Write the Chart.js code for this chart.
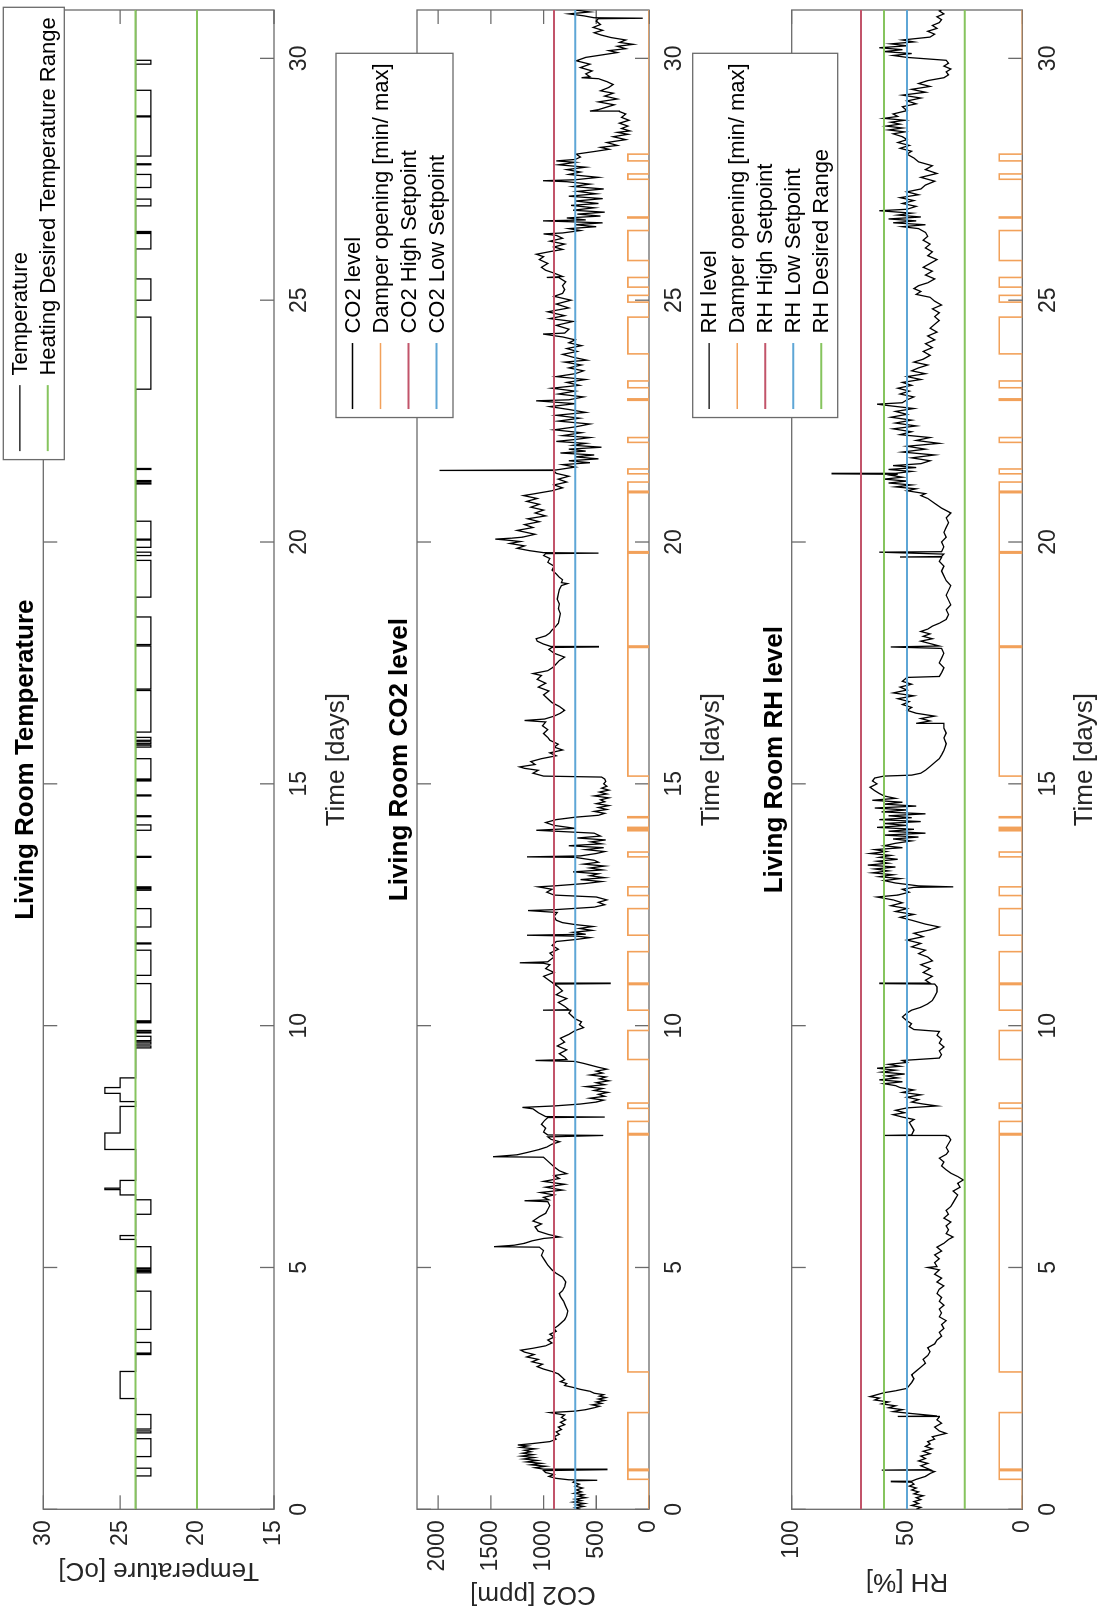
<!DOCTYPE html>
<html>
<head>
<meta charset="utf-8">
<script src="https://cdn.jsdelivr.net/npm/chart.js@4.4.1/dist/chart.umd.min.js"></script>
<style>
    html, body { margin: 0; padding: 0; background: #fff; overflow: hidden; }
    /* the figure is laid out landscape, then turned a quarter to the left */
    #fig {
        position: absolute; left: 0; top: 0;
        width: 1612px; height: 1099px;
        transform-origin: 0 0;
        transform: translate(0, 1612px) rotate(-90deg);
        background: #fff;
    }
    #fig canvas { position: absolute; left: 0; }
</style>
</head>
<body>
<div id="fig">
    <canvas id="tempChart" width="1612" height="380" style="top:0px"></canvas>
    <canvas id="co2Chart" width="1612" height="420" style="top:320px"></canvas>
    <canvas id="rhChart" width="1612" height="419" style="top:680px"></canvas>
</div>
<script>
// ---- data: [day, value] ----
const dayTicks = [0, 5, 10, 15, 20, 25, 30];
const tempTicks = [15, 20, 25, 30];
const co2Ticks = [0, 500, 1000, 1500, 2000];
const rhTicks = [0, 50, 100];

const heatingRange = [24, 20];
const co2High = 900;
const co2Low = 700;
const rhHigh = 70;
const rhLow = 50;
const rhDesired = [60, 25];
const damperMaxCo2 = 200;
const damperMaxRh = 10;

// temperature holds each value until the next step
const tempSteps = [
    [0, 24], [0.69, 23], [0.85, 24], [1.09, 23], [1.46, 24], [1.58, 23], [1.62, 24], [1.66, 23], [1.96, 24],
    [2.29, 25], [2.85, 24], [3.20, 23], [3.22, 24], [3.23, 23], [3.45, 24], [3.72, 23], [4.51, 24],
    [4.89, 23], [4.92, 24], [4.94, 23], [4.97, 24], [4.99, 23], [5.43, 24], [5.58, 25], [5.66, 24],
    [6.10, 23], [6.40, 24], [6.50, 25], [6.61, 26], [6.64, 25], [6.80, 24], [7.44, 26], [7.78, 25], [8.33, 24],
    [8.43, 25], [8.60, 26], [8.72, 25], [8.92, 24], [9.54, 23], [9.58, 24], [9.62, 23], [9.66, 24], [9.69, 23], [9.78, 24],
    [9.85, 23], [9.86, 24], [9.89, 23], [9.90, 24], [10.06, 23], [10.08, 24], [10.10, 23], [10.87, 24],
    [11.04, 23], [11.56, 24], [11.69, 23], [11.71, 24], [12.04, 23], [12.42, 24], [12.80, 23], [12.83, 24], [12.85, 23], [12.87, 24],
    [13.48, 23], [13.50, 24], [14.04, 23], [14.15, 24], [14.32, 23], [14.34, 24], [14.75, 23], [14.77, 24],
    [15.06, 23], [15.08, 24], [15.10, 23], [15.52, 24], [15.76, 23], [15.80, 24], [15.83, 23], [15.87, 24], [15.90, 23], [15.96, 24],
    [16.07, 23], [16.93, 24], [16.96, 23], [17.85, 24], [17.88, 23], [18.45, 24], [18.86, 23], [19.62, 24],
    [19.72, 23], [19.79, 24], [19.89, 23], [20.04, 24], [20.06, 23], [20.43, 24], [21.20, 23], [21.22, 24], [21.25, 23], [21.27, 24],
    [21.50, 23], [21.52, 24], [23.16, 23], [24.65, 24], [25.00, 23], [25.44, 24], [26.06, 23], [26.38, 24], [26.40, 23], [26.42, 24],
    [26.95, 23], [27.09, 24], [27.33, 23], [27.60, 24], [27.80, 23], [27.82, 24], [27.98, 23], [28.79, 24], [28.81, 23], [29.34, 24],
    [29.88, 23], [29.96, 24], [31, 24]
];

// damper: 1 = open (max), 0 = closed (min)
const damperSteps = [
    [0, 0], [0.62, 1], [0.80, 0], [0.83, 1], [2.00, 0], [2.84, 1], [7.74, 0], [7.77, 1], [8.02, 0], [8.29, 1], [8.40, 0],
    [9.30, 1], [9.90, 0], [10.32, 1], [10.85, 0], [10.88, 1], [11.53, 0], [11.87, 1], [12.42, 0], [12.69, 1], [12.87, 0],
    [13.49, 1], [13.59, 0], [14.03, 1], [14.05, 0], [14.07, 1], [14.10, 0], [14.30, 1], [14.32, 0], [15.16, 1], [17.82, 0],
    [17.85, 1], [19.77, 0], [19.80, 1], [21.02, 0], [21.05, 1], [21.24, 0], [21.41, 1], [21.51, 0], [22.06, 1], [22.16, 0],
    [22.93, 1], [22.96, 0], [23.19, 1], [23.33, 0], [23.89, 1], [24.65, 0], [24.96, 1], [25.10, 0], [25.27, 1], [25.47, 0],
    [25.82, 1], [26.44, 0], [26.70, 1], [26.72, 0], [27.50, 1], [27.61, 0], [27.88, 1], [28.02, 0], [31, 0]
];

const co2Readings = [
    [0.00, 650], [0.03, 700], [0.06, 620], [0.09, 690], [0.12, 610], [0.15, 720], [0.18, 640], [0.21, 700], [0.24, 600], [0.27, 670],
    [0.30, 620], [0.33, 710], [0.36, 640], [0.40, 690], [0.44, 630], [0.48, 700], [0.52, 660], [0.56, 720], [0.59, 700], [0.60, 490],
    [0.61, 760], [0.64, 880], [0.68, 950], [0.72, 900], [0.76, 980], [0.80, 1000], [0.82, 400], [0.83, 1000], [0.86, 1080], [0.89, 980],
    [0.92, 1120], [0.95, 1020], [0.98, 1160], [1.01, 1060], [1.04, 1190], [1.07, 1090], [1.10, 1210], [1.13, 1100], [1.16, 1200], [1.19, 1120],
    [1.22, 1180], [1.25, 1080], [1.28, 1220], [1.31, 1150], [1.33, 1245], [1.36, 1100], [1.40, 940], [1.45, 880], [1.50, 900], [1.55, 850],
    [1.60, 880], [1.65, 830], [1.70, 860], [1.75, 800], [1.80, 840], [1.85, 790], [1.90, 830], [1.95, 800], [2.00, 940], [2.03, 700],
    [2.06, 600], [2.10, 520], [2.13, 470], [2.16, 540], [2.19, 450], [2.22, 500], [2.25, 420], [2.28, 480], [2.31, 410], [2.34, 470],
    [2.37, 430], [2.40, 520], [2.44, 560], [2.48, 650], [2.52, 720], [2.56, 800], [2.60, 780], [2.64, 840], [2.68, 800], [2.74, 830],
    [2.80, 860], [2.85, 920], [2.90, 1000], [2.95, 1060], [3.00, 1010], [3.05, 1110], [3.10, 1050], [3.15, 1160], [3.20, 1090], [3.25, 1180],
    [3.29, 1215], [3.33, 1100], [3.38, 980], [3.44, 920], [3.50, 960], [3.56, 900], [3.62, 940], [3.68, 880], [3.74, 900], [3.80, 860],
    [3.86, 830], [3.92, 800], [4.00, 780], [4.10, 770], [4.20, 790], [4.30, 810], [4.40, 840], [4.46, 850], [4.52, 820], [4.60, 800],
    [4.70, 790], [4.80, 820], [4.88, 880], [4.95, 920], [5.05, 960], [5.15, 990], [5.25, 1020], [5.35, 1000], [5.42, 1040], [5.43, 1470],
    [5.46, 1280], [5.50, 1180], [5.55, 1110], [5.60, 1000], [5.63, 846], [5.68, 950], [5.75, 1050], [5.84, 1080], [5.90, 1020], [5.96, 1100],
    [6.05, 1040], [6.12, 980], [6.20, 960], [6.28, 940], [6.36, 960], [6.38, 1180], [6.40, 950], [6.45, 1000], [6.50, 900], [6.55, 1030],
    [6.60, 820], [6.66, 980], [6.72, 800], [6.78, 1000], [6.84, 850], [6.90, 900], [6.94, 780], [7.00, 850], [7.08, 900], [7.16, 940],
    [7.24, 980], [7.28, 1000], [7.29, 1480], [7.33, 1250], [7.38, 1150], [7.44, 1040], [7.49, 970], [7.55, 920], [7.60, 846], [7.65, 930],
    [7.70, 960], [7.73, 434], [7.74, 960], [7.80, 1000], [7.88, 980], [7.96, 1020], [8.04, 990], [8.10, 960], [8.11, 420], [8.12, 980],
    [8.20, 1050], [8.28, 1100], [8.31, 1200], [8.34, 900], [8.38, 650], [8.42, 500], [8.46, 430], [8.50, 560], [8.54, 420], [8.58, 480],
    [8.62, 390], [8.66, 520], [8.70, 440], [8.74, 600], [8.78, 420], [8.82, 500], [8.86, 380], [8.90, 470], [8.94, 410], [8.98, 560],
    [9.02, 440], [9.06, 500], [9.10, 400], [9.14, 480], [9.18, 550], [9.22, 620], [9.26, 700], [9.28, 1077], [9.30, 780], [9.35, 800],
    [9.42, 850], [9.50, 780], [9.58, 870], [9.66, 800], [9.74, 840], [9.82, 760], [9.90, 700], [9.96, 620], [10.02, 660], [10.08, 640],
    [10.14, 700], [10.20, 730], [10.26, 760], [10.31, 740], [10.32, 1004], [10.33, 760], [10.40, 800], [10.48, 860], [10.56, 780], [10.64, 880],
    [10.72, 820], [10.80, 860], [10.86, 900], [10.87, 370], [10.88, 910], [10.94, 950], [11.02, 1000], [11.10, 900], [11.18, 980], [11.26, 940],
    [11.29, 1000], [11.30, 1226], [11.32, 960], [11.42, 900], [11.50, 940], [11.58, 860], [11.66, 920], [11.74, 880], [11.78, 700], [11.82, 560],
    [11.85, 680], [11.87, 1157], [11.89, 600], [11.93, 720], [11.97, 540], [12.01, 660], [12.05, 530], [12.09, 700], [12.13, 820], [12.18, 880],
    [12.26, 900], [12.34, 870], [12.38, 1147], [12.40, 880], [12.45, 520], [12.50, 420], [12.55, 480], [12.60, 400], [12.66, 500], [12.70, 900],
    [12.76, 970], [12.82, 920], [12.87, 1050], [12.89, 900], [12.94, 600], [12.98, 450], [13.02, 650], [13.06, 420], [13.10, 560], [13.14, 480],
    [13.18, 720], [13.22, 440], [13.26, 560], [13.30, 420], [13.34, 620], [13.38, 480], [13.42, 520], [13.48, 700], [13.49, 1157], [13.51, 650],
    [13.56, 500], [13.60, 420], [13.64, 600], [13.68, 430], [13.72, 760], [13.76, 450], [13.80, 550], [13.84, 410], [13.88, 680], [13.92, 460],
    [13.98, 520], [14.04, 1068], [14.08, 700], [14.14, 900], [14.20, 980], [14.26, 880], [14.31, 700], [14.35, 480], [14.39, 420], [14.43, 520],
    [14.47, 400], [14.51, 480], [14.55, 380], [14.59, 500], [14.63, 420], [14.67, 460], [14.71, 380], [14.75, 520], [14.79, 400], [14.83, 470],
    [14.87, 380], [14.91, 450], [14.95, 400], [15.00, 430], [15.05, 410], [15.10, 420], [15.14, 450], [15.16, 1000], [15.22, 1100], [15.28, 1050],
    [15.32, 1180], [15.35, 1226], [15.40, 1080], [15.46, 1120], [15.52, 1020], [15.58, 880], [15.64, 940], [15.70, 820], [15.76, 900], [15.82, 860],
    [15.90, 940], [15.96, 960], [16.04, 1000], [16.12, 960], [16.20, 1010], [16.28, 980], [16.31, 1180], [16.34, 990], [16.40, 900], [16.46, 840],
    [16.52, 800], [16.60, 850], [16.68, 920], [16.76, 960], [16.84, 1000], [16.92, 950], [17.00, 1050], [17.08, 980], [17.16, 1060], [17.24, 1020],
    [17.28, 1100], [17.34, 960], [17.41, 910], [17.48, 880], [17.55, 850], [17.62, 800], [17.70, 900], [17.78, 950], [17.82, 920], [17.83, 480],
    [17.84, 930], [17.89, 1000], [17.95, 1060], [18.00, 1070], [18.06, 980], [18.12, 940], [18.18, 920], [18.24, 890], [18.32, 860], [18.42, 850],
    [18.52, 840], [18.62, 860], [18.72, 850], [18.82, 870], [18.93, 860], [19.02, 850], [19.10, 830], [19.14, 773], [19.16, 830], [19.22, 820],
    [19.27, 850], [19.34, 880], [19.42, 920], [19.50, 900], [19.58, 960], [19.66, 940], [19.72, 1000], [19.76, 980], [19.77, 480], [19.78, 1000],
    [19.82, 1130], [19.87, 1250], [19.92, 1180], [19.97, 1320], [20.01, 1220], [20.04, 1350], [20.06, 1457], [20.08, 1300], [20.10, 1200], [20.16, 1080],
    [20.24, 1250], [20.30, 1100], [20.36, 1180], [20.42, 1040], [20.48, 1150], [20.54, 980], [20.60, 1080], [20.66, 1000], [20.72, 1120], [20.78, 1040],
    [20.84, 1160], [20.90, 1060], [20.96, 1190], [21.00, 1080], [21.06, 920], [21.12, 820], [21.18, 900], [21.24, 780], [21.30, 860], [21.36, 760],
    [21.42, 880], [21.47, 900], [21.48, 1987], [21.49, 880], [21.55, 700], [21.60, 820], [21.64, 560], [21.68, 760], [21.72, 480], [21.76, 700],
    [21.80, 520], [21.84, 840], [21.88, 600], [21.92, 760], [21.96, 450], [22.00, 720], [22.04, 600], [22.08, 880], [22.12, 700], [22.16, 560],
    [22.20, 820], [22.26, 640], [22.32, 900], [22.38, 700], [22.44, 560], [22.50, 860], [22.56, 660], [22.62, 880], [22.68, 600], [22.74, 760],
    [22.80, 940], [22.86, 700], [22.92, 1070], [22.94, 760], [23.00, 620], [23.06, 860], [23.12, 700], [23.18, 920], [23.24, 660], [23.30, 780],
    [23.36, 600], [23.42, 880], [23.48, 700], [23.54, 620], [23.60, 760], [23.66, 640], [23.72, 800], [23.76, 590], [23.82, 720], [23.88, 820],
    [23.94, 680], [24.00, 780], [24.06, 640], [24.12, 760], [24.18, 700], [24.24, 820], [24.30, 1004], [24.32, 800], [24.40, 760], [24.48, 880],
    [24.56, 720], [24.62, 940], [24.68, 800], [24.76, 960], [24.84, 760], [24.92, 880], [25.00, 740], [25.08, 900], [25.14, 820], [25.22, 800],
    [25.30, 820], [25.38, 790], [25.46, 850], [25.47, 970], [25.49, 820], [25.56, 900], [25.62, 980], [25.68, 1020], [25.76, 960], [25.84, 1040],
    [25.90, 1000], [25.95, 1068], [26.00, 950], [26.05, 820], [26.10, 900], [26.16, 800], [26.22, 940], [26.28, 820], [26.34, 880], [26.37, 1000],
    [26.39, 820], [26.44, 650], [26.48, 760], [26.52, 500], [26.56, 700], [26.60, 440], [26.64, 1004], [26.66, 600], [26.70, 780], [26.74, 460],
    [26.78, 680], [26.82, 420], [26.86, 720], [26.91, 520], [26.96, 740], [27.00, 480], [27.05, 700], [27.10, 440], [27.15, 760], [27.20, 500],
    [27.25, 680], [27.30, 430], [27.35, 720], [27.40, 560], [27.45, 780], [27.47, 1004], [27.49, 700], [27.54, 480], [27.60, 760], [27.65, 650],
    [27.70, 780], [27.75, 600], [27.80, 860], [27.85, 700], [27.88, 880], [27.91, 700], [27.96, 650], [28.02, 690], [28.08, 500], [28.12, 380],
    [28.16, 460], [28.20, 300], [28.26, 400], [28.32, 220], [28.38, 340], [28.43, 200], [28.47, 300], [28.50, 180], [28.55, 260], [28.60, 200],
    [28.66, 280], [28.72, 190], [28.78, 260], [28.85, 220], [28.90, 280], [28.91, 560], [28.94, 480], [28.98, 420], [29.04, 330], [29.10, 480],
    [29.16, 300], [29.22, 420], [29.28, 340], [29.33, 460], [29.40, 380], [29.46, 340], [29.52, 400], [29.58, 480], [29.60, 640], [29.62, 560],
    [29.68, 600], [29.74, 540], [29.81, 650], [29.88, 560], [29.95, 690], [30.02, 600], [30.08, 420], [30.12, 300], [30.16, 380], [30.20, 220],
    [30.25, 300], [30.29, 150], [30.33, 280], [30.38, 220], [30.43, 360], [30.48, 450], [30.53, 520], [30.58, 440], [30.64, 530], [30.70, 460],
    [30.77, 500], [30.82, 480], [30.83, 60], [30.84, 520], [30.88, 620], [30.92, 760], [30.96, 560], [31.00, 700]
];

const rhReadings = [
    [0.00, 46], [0.04, 44], [0.08, 48], [0.12, 45], [0.16, 47], [0.20, 44], [0.24, 46], [0.28, 43], [0.32, 47], [0.36, 45],
    [0.40, 48], [0.44, 46], [0.48, 49], [0.52, 47], [0.56, 48], [0.57, 57], [0.58, 48], [0.62, 46], [0.68, 42], [0.74, 40],
    [0.78, 38], [0.80, 40], [0.81, 61], [0.82, 40], [0.86, 42], [0.90, 44], [0.95, 41], [1.00, 45], [1.05, 42], [1.10, 44],
    [1.15, 40], [1.20, 43], [1.25, 39], [1.30, 42], [1.35, 40], [1.40, 41], [1.45, 38], [1.50, 39], [1.57, 33], [1.62, 36],
    [1.70, 38], [1.78, 35], [1.85, 37], [1.91, 36], [1.92, 54], [1.93, 37], [1.98, 48], [2.02, 56], [2.06, 52], [2.10, 58],
    [2.14, 55], [2.18, 61], [2.22, 58], [2.26, 64], [2.30, 62], [2.33, 66], [2.37, 63], [2.41, 60], [2.45, 55], [2.50, 50],
    [2.56, 49], [2.62, 48], [2.70, 47], [2.78, 48], [2.86, 46], [2.94, 44], [3.02, 42], [3.10, 43], [3.18, 41], [3.26, 40],
    [3.34, 41], [3.42, 38], [3.50, 37], [3.58, 35], [3.66, 36], [3.74, 34], [3.82, 35], [3.90, 33], [3.98, 36], [4.06, 35],
    [4.14, 36], [4.22, 34], [4.30, 36], [4.38, 35], [4.46, 37], [4.55, 36], [4.62, 34], [4.70, 37], [4.78, 35], [4.86, 38],
    [4.95, 36], [5.00, 41], [5.02, 37], [5.10, 38], [5.18, 36], [5.26, 38], [5.34, 35], [5.42, 37], [5.50, 34], [5.58, 32],
    [5.63, 30], [5.70, 33], [5.78, 32], [5.86, 33], [5.94, 31], [6.02, 34], [6.10, 32], [6.18, 33], [6.26, 31], [6.34, 30],
    [6.42, 29], [6.50, 28], [6.58, 30], [6.66, 27], [6.74, 28], [6.81, 25.6], [6.88, 28], [6.95, 31], [7.02, 33], [7.10, 35],
    [7.18, 34], [7.26, 36], [7.34, 33], [7.40, 32], [7.48, 33], [7.56, 32], [7.64, 31], [7.71, 32], [7.72, 33], [7.73, 60],
    [7.74, 48], [7.84, 47], [7.92, 48], [8.00, 49], [8.06, 47], [8.11, 52], [8.16, 56], [8.20, 51], [8.25, 55], [8.30, 50],
    [8.34, 37], [8.38, 43], [8.42, 48], [8.47, 45], [8.52, 50], [8.57, 44], [8.62, 52], [8.67, 47], [8.72, 53], [8.76, 55],
    [8.80, 60], [8.84, 52], [8.88, 62], [8.92, 54], [8.96, 59], [9.00, 51], [9.04, 61], [9.08, 55], [9.12, 63], [9.16, 53],
    [9.20, 58], [9.24, 50], [9.28, 52], [9.33, 36], [9.40, 35], [9.48, 36], [9.56, 34], [9.64, 36], [9.72, 35], [9.80, 37],
    [9.88, 36], [9.92, 47], [9.98, 49], [10.04, 48], [10.10, 50], [10.18, 52], [10.26, 50], [10.32, 48], [10.38, 44], [10.45, 41],
    [10.52, 39], [10.60, 38], [10.70, 37], [10.80, 37], [10.86, 38], [10.87, 62], [10.88, 40], [10.94, 42], [11.02, 39], [11.10, 43],
    [11.18, 40], [11.26, 44], [11.34, 39], [11.42, 41], [11.49, 45], [11.56, 42], [11.63, 48], [11.70, 44], [11.77, 50], [11.84, 43],
    [11.91, 47], [11.98, 40], [12.04, 36], [12.10, 42], [12.18, 48], [12.24, 53], [12.30, 47], [12.36, 55], [12.42, 50], [12.48, 57],
    [12.54, 52], [12.60, 56], [12.66, 63], [12.70, 54], [12.76, 49], [12.82, 52], [12.86, 47], [12.87, 30], [12.89, 45], [12.95, 55],
    [13.00, 60], [13.04, 53], [13.08, 62], [13.12, 56], [13.16, 65], [13.20, 58], [13.24, 64], [13.28, 55], [13.32, 67], [13.36, 58],
    [13.40, 63], [13.44, 54], [13.48, 62], [13.52, 57], [13.56, 66], [13.60, 59], [13.64, 64], [13.68, 52], [13.72, 60], [13.77, 55],
    [13.82, 48], [13.86, 56], [13.90, 45], [13.94, 60], [13.98, 42], [14.02, 58], [14.06, 47], [14.10, 63], [14.14, 50], [14.18, 60],
    [14.22, 44], [14.26, 62], [14.30, 48], [14.34, 58], [14.38, 42], [14.42, 61], [14.46, 50], [14.50, 64], [14.54, 46], [14.58, 60],
    [14.62, 52], [14.66, 65], [14.70, 55], [14.75, 60], [14.80, 62], [14.86, 64], [14.93, 66], [15.00, 63], [15.06, 65], [15.12, 64],
    [15.16, 60], [15.18, 48], [15.22, 44], [15.28, 42], [15.36, 40], [15.44, 38], [15.52, 36], [15.60, 35], [15.69, 34], [15.76, 33.5],
    [15.83, 33], [15.95, 34], [16.05, 33], [16.15, 34], [16.24, 34], [16.25, 46], [16.30, 40], [16.35, 44], [16.40, 38], [16.46, 46],
    [16.52, 50], [16.58, 48], [16.64, 52], [16.70, 49], [16.76, 54], [16.82, 47], [16.88, 56], [16.94, 50], [17.00, 53], [17.06, 48],
    [17.12, 52], [17.20, 50], [17.22, 36], [17.30, 35], [17.40, 34], [17.50, 36], [17.60, 35], [17.70, 34], [17.80, 35], [17.83, 57],
    [17.85, 36], [17.90, 40], [17.95, 44], [18.00, 39], [18.05, 43], [18.10, 40], [18.15, 44], [18.20, 41], [18.26, 39], [18.32, 36],
    [18.40, 33], [18.50, 32], [18.60, 33], [18.70, 31], [18.80, 32], [18.90, 33], [19.00, 32], [19.10, 31], [19.20, 33], [19.30, 34],
    [19.40, 35], [19.50, 34], [19.60, 36], [19.68, 35], [19.69, 53], [19.70, 35], [19.75, 34], [19.79, 62], [19.80, 35], [19.90, 34],
    [20.00, 35], [20.10, 33], [20.20, 34], [20.30, 33], [20.40, 32], [20.50, 33], [20.60, 31], [20.70, 35], [20.80, 38], [20.90, 41],
    [20.96, 44], [21.00, 42], [21.06, 50], [21.10, 46], [21.14, 55], [21.18, 48], [21.22, 58], [21.26, 50], [21.30, 60], [21.34, 52],
    [21.38, 57], [21.40, 54], [21.41, 82.7], [21.42, 55], [21.46, 48], [21.50, 58], [21.54, 46], [21.58, 56], [21.62, 44], [21.68, 40],
    [21.74, 48], [21.80, 38], [21.86, 52], [21.92, 42], [21.98, 50], [22.04, 36], [22.10, 46], [22.16, 40], [22.22, 53], [22.28, 48],
    [22.34, 56], [22.40, 46], [22.46, 55], [22.52, 48], [22.58, 57], [22.64, 50], [22.70, 55], [22.76, 47], [22.82, 58], [22.85, 63],
    [22.88, 52], [22.94, 50], [23.00, 47], [23.06, 53], [23.12, 49], [23.18, 54], [23.24, 48], [23.30, 52], [23.36, 44], [23.42, 50],
    [23.48, 42], [23.54, 48], [23.60, 45], [23.66, 41], [23.72, 47], [23.78, 43], [23.86, 40], [23.94, 43], [24.02, 39], [24.10, 42],
    [24.18, 38], [24.26, 41], [24.34, 37], [24.42, 40], [24.50, 38], [24.58, 36], [24.66, 38], [24.74, 36], [24.82, 39], [24.90, 35],
    [24.98, 38], [25.06, 40], [25.12, 46], [25.18, 44], [25.24, 47], [25.30, 45], [25.36, 41], [25.44, 38], [25.52, 42], [25.60, 39],
    [25.68, 43], [25.76, 40], [25.84, 37], [25.92, 41], [26.00, 39], [26.08, 42], [26.16, 40], [26.24, 43], [26.32, 41], [26.40, 42],
    [26.48, 45], [26.52, 52], [26.56, 42], [26.60, 56], [26.64, 46], [26.68, 58], [26.72, 44], [26.76, 54], [26.80, 48], [26.85, 62],
    [26.88, 50], [26.94, 46], [27.00, 52], [27.06, 47], [27.12, 53], [27.18, 45], [27.24, 50], [27.30, 44], [27.38, 42], [27.46, 38],
    [27.54, 44], [27.62, 37], [27.70, 42], [27.78, 39], [27.86, 45], [27.94, 47], [28.02, 50], [28.08, 48], [28.14, 53], [28.20, 49],
    [28.26, 54], [28.32, 50], [28.38, 52], [28.44, 56], [28.48, 51], [28.52, 58], [28.56, 52], [28.60, 59], [28.64, 53], [28.68, 57],
    [28.72, 51], [28.76, 60], [28.80, 54], [28.85, 56], [28.92, 50], [29.00, 52], [29.06, 46], [29.12, 50], [29.18, 44], [29.24, 52],
    [29.30, 42], [29.36, 48], [29.42, 40], [29.48, 45], [29.54, 41], [29.60, 34], [29.66, 32], [29.72, 33], [29.78, 31], [29.84, 34],
    [29.90, 32], [29.96, 33], [30.02, 50], [30.06, 56], [30.10, 48], [30.14, 60], [30.18, 52], [30.22, 62], [30.26, 50], [30.30, 57],
    [30.34, 47], [30.38, 52], [30.44, 40], [30.50, 38], [30.56, 41], [30.62, 37], [30.68, 39], [30.74, 36], [30.80, 35], [30.86, 37],
    [30.92, 34], [30.98, 36], [31.00, 35]
];

// ---- drawing ----
const FONT = '"Liberation Sans", Arial, Helvetica, sans-serif';
const AXIS_COLOR = '#6b6b6b';
const TEXT_COLOR = '#262626';
const DAY_MAX = 31;
const TICK_LEN = 14;
const PLOT_LEFT = 102.7;

Chart.defaults.font.family = FONT;

const toPoints = (pairs, k = 1) => pairs.map(([d, v]) => ({ x: d, y: v * k }));
// flat lines across the whole time range, broken by a gap between them
const levelLines = (levels) => {
    const out = [];
    levels.forEach((v, i) => {
        if (i) out.push({ x: DAY_MAX, y: null });
        out.push({ x: 0, y: v }, { x: DAY_MAX, y: v });
    });
    return out;
};

// MATLAB style box with inward ticks on all four sides
const boxTicks = {
    id: 'boxTicks',
    beforeDatasetsDraw(chart) {
        const { ctx, chartArea: a, scales: { x, y } } = chart;
        ctx.save();
        ctx.strokeStyle = AXIS_COLOR;
        ctx.lineWidth = 1.3;
        ctx.beginPath();
        x.ticks.forEach(t => {
            const px = x.getPixelForValue(t.value);
            ctx.moveTo(px, a.bottom); ctx.lineTo(px, a.bottom - TICK_LEN);
            ctx.moveTo(px, a.top); ctx.lineTo(px, a.top + TICK_LEN);
        });
        y.ticks.forEach(t => {
            const py = y.getPixelForValue(t.value);
            ctx.moveTo(a.left, py); ctx.lineTo(a.left + TICK_LEN, py);
            ctx.moveTo(a.right, py); ctx.lineTo(a.right - TICK_LEN, py);
        });
        ctx.stroke();
        ctx.strokeRect(a.left, a.top, a.right - a.left, a.bottom - a.top);
        ctx.restore();
    }
};

// boxed legend in the upper right corner
const boxLegend = {
    id: 'boxLegend',
    afterDraw(chart, args, opts) {
        const { ctx } = chart;
        const items = chart.data.datasets;
        ctx.save();
        ctx.font = '22px ' + FONT;
        const textW = Math.max(...items.map(d => ctx.measureText(d.label).width));
        const w = 84 + textW + 10;
        const h = 33 + (items.length - 1) * 28;
        const left = opts.right - w;
        ctx.fillStyle = '#fff';
        ctx.fillRect(left, opts.top, w, h);
        ctx.strokeStyle = AXIS_COLOR;
        ctx.lineWidth = 1.3;
        ctx.strokeRect(left, opts.top, w, h);
        ctx.textBaseline = 'middle';
        ctx.textAlign = 'left';
        items.forEach((d, i) => {
            const yy = opts.top + 16.5 + i * 28;
            ctx.strokeStyle = d.borderColor;
            ctx.lineWidth = d.borderWidth;
            ctx.beginPath();
            ctx.moveTo(left + 8.5, yy);
            ctx.lineTo(left + 74.5, yy);
            ctx.stroke();
            ctx.fillStyle = '#000';
            ctx.fillText(d.label, left + 84, yy + 1);
        });
        ctx.restore();
    }
};

function makeChart(id, p, cfg) {
    const datasets = cfg.series.map((s, i, all) => ({
        label: s.label,
        data: s.data,
        borderColor: s.color,
        borderWidth: s.width,
        pointRadius: 0,
        tension: 0,
        fill: false,
        spanGaps: false,
        stepped: s.stepped || false,
        order: all.length - i
    }));
    return new Chart(document.getElementById(id), {
        type: 'line',
        data: { datasets },
        plugins: [boxTicks, boxLegend],
        options: {
            animation: false,
            responsive: false,
            devicePixelRatio: 1,
            layout: { padding: { left: 0, right: 10, top: 0, bottom: 0 } },
            plugins: {
                legend: { display: false },
                tooltip: { enabled: false },
                title: {
                    display: true,
                    fullSize: false,
                    text: cfg.title,
                    color: '#000',
                    font: { size: 26, weight: 'bold', lineHeight: 1.2 },
                    padding: { top: p.titleCenter - 15.6, bottom: 1.4 }
                },
                boxLegend: { right: p.legendRight, top: p.legendTop }
            },
            scales: {
                x: {
                    type: 'linear',
                    min: 0,
                    max: DAY_MAX,
                    grid: { display: false, drawTicks: false },
                    border: { display: false },
                    afterBuildTicks: s => { s.ticks = dayTicks.map(v => ({ value: v })); },
                    afterFit: s => { s.height = p.height - p.axesBottom; },
                    ticks: {
                        color: TEXT_COLOR,
                        font: { size: 23, lineHeight: 1.2 },
                        padding: 12.2,
                        maxRotation: 0,
                        callback: v => String(v)
                    },
                    title: {
                        display: true,
                        text: 'Time [days]',
                        color: TEXT_COLOR,
                        font: { size: 26, lineHeight: 1 },
                        padding: { top: 0, bottom: p.height - p.xTitleCenter - 13 }
                    }
                },
                y: {
                    type: 'linear',
                    min: cfg.yMin,
                    max: cfg.yMax,
                    grid: { display: false, drawTicks: false },
                    border: { display: false },
                    afterBuildTicks: s => { s.ticks = cfg.yTicks.map(v => ({ value: v })); },
                    afterFit: s => { s.width = PLOT_LEFT; },
                    ticks: {
                        color: TEXT_COLOR,
                        font: { size: 23, lineHeight: 1.2 },
                        padding: 11,
                        callback: v => String(v)
                    },
                    title: {
                        display: true,
                        text: cfg.yTitle,
                        color: TEXT_COLOR,
                        font: { size: 26, lineHeight: 1 },
                        padding: { top: p.yTitleCenter - 13, bottom: 0 }
                    }
                }
            }
        }
    });
}

const BLACK = '#000000';
const GREEN = '#86c45e';
const RED = '#c2546a';
const BLUE = '#5ea6d6';
const ORANGE = '#f2a15a';

// 'before' keeps each value flat until the next listed change
makeChart('tempChart',
    { height: 380, axesBottom: 274, titleCenter: 26.3, xTitleCenter: 336.5, yTitleCenter: 42, legendTop: 3.3, legendRight: 1604.7 },
    {
        title: 'Living Room Temperature',
        yTitle: 'Temperature [oC]',
        yMin: 15, yMax: 30, yTicks: tempTicks,
        series: [
            { label: 'Temperature', data: toPoints(tempSteps), color: BLACK, width: 1.3, stepped: 'before' },
            { label: 'Heating Desired Temperature Range', data: levelLines(heatingRange), color: GREEN, width: 2 }
        ]
    });

makeChart('co2Chart',
    { height: 420, axesBottom: 329, titleCenter: 80, xTitleCenter: 391.7, yTitleCenter: 18, legendTop: 16, legendRight: 1558.7 },
    {
        title: 'Living Room CO2 level',
        yTitle: 'CO2 [ppm]',
        yMin: 0, yMax: 2200, yTicks: co2Ticks,
        series: [
            { label: 'CO2 level', data: toPoints(co2Readings), color: BLACK, width: 1.3 },
            { label: 'Damper opening [min/ max]', data: toPoints(damperSteps, damperMaxCo2), color: ORANGE, width: 1.6, stepped: 'before' },
            { label: 'CO2 High Setpoint', data: levelLines([co2High]), color: RED, width: 2 },
            { label: 'CO2 Low Setpoint', data: levelLines([co2Low]), color: BLUE, width: 2 }
        ]
    });

makeChart('rhChart',
    { height: 419, axesBottom: 342.3, titleCenter: 94.7, xTitleCenter: 404.8, yTitleCenter: 30.8, legendTop: 12.7, legendRight: 1558.7 },
    {
        title: 'Living Room RH level',
        yTitle: 'RH [%]',
        yMin: 0, yMax: 100, yTicks: rhTicks,
        series: [
            { label: 'RH level', data: toPoints(rhReadings), color: BLACK, width: 1.3 },
            { label: 'Damper opening [min/ max]', data: toPoints(damperSteps, damperMaxRh), color: ORANGE, width: 1.6, stepped: 'before' },
            { label: 'RH High Setpoint', data: levelLines([rhHigh]), color: RED, width: 2 },
            { label: 'RH Low Setpoint', data: levelLines([rhLow]), color: BLUE, width: 2 },
            { label: 'RH Desired Range', data: levelLines(rhDesired), color: GREEN, width: 2 }
        ]
    });
</script>
</body>
</html>
